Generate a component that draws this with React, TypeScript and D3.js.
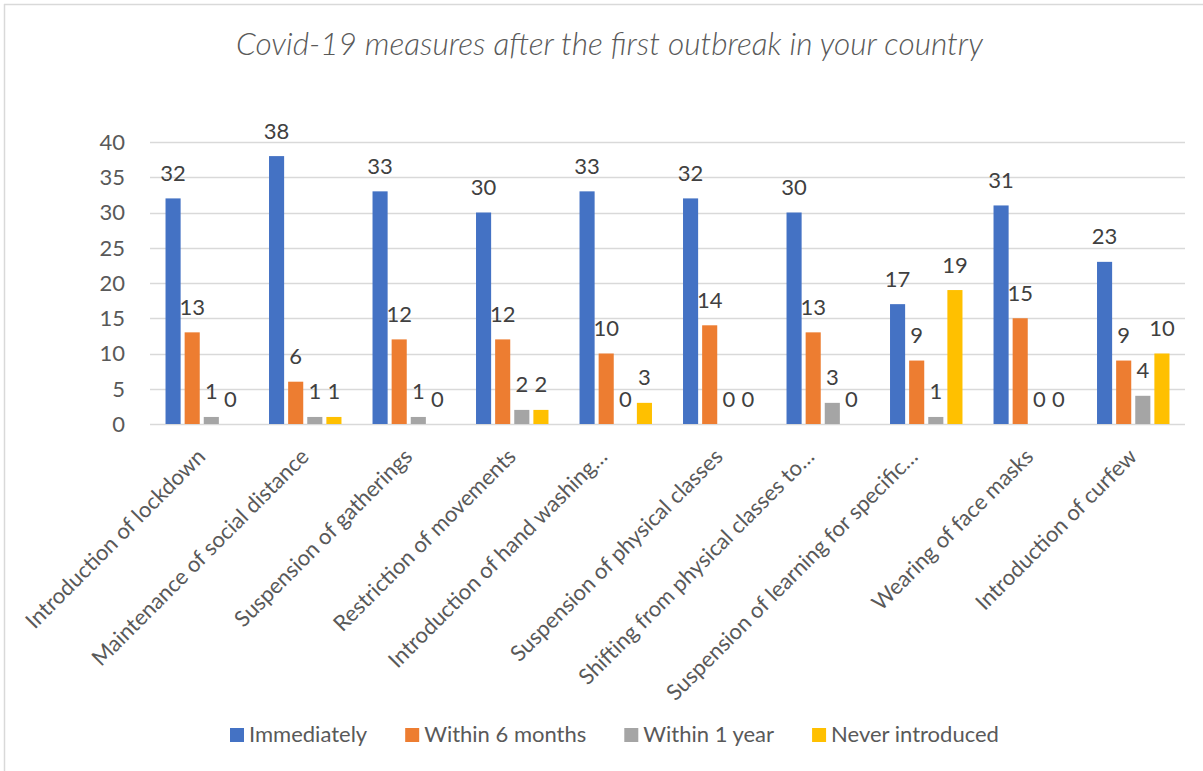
import React, { useEffect, useRef } from 'react';
import * as d3 from 'd3';

const categories = [
  'Introduction of lockdown',
  'Maintenance of social distance',
  'Suspension of gatherings',
  'Restriction of movements',
  'Introduction of hand washing…',
  'Suspension of physical classes',
  'Shifting from physical classes to…',
  'Suspension of learning for specific…',
  'Wearing of face masks',
  'Introduction of curfew',
];
const seriesNames = ['Immediately', 'Within 6 months', 'Within 1 year', 'Never introduced'];
const immediately = [32, 38, 33, 30, 33, 32, 30, 17, 31, 23];
const within6Months = [13, 6, 12, 12, 10, 14, 13, 9, 15, 9];
const within1Year = [1, 1, 1, 2, 0, 0, 3, 1, 0, 4];
const neverIntroduced = [0, 1, 0, 2, 3, 0, 0, 19, 0, 10];
const yTicks = [0, 5, 10, 15, 20, 25, 30, 35, 40];
const title = 'Covid-19 measures after the first outbreak in your country';

const colors = ['#4472C4', '#ED7D31', '#A5A5A5', '#FFC000'];

const W = 1203;
const H = 771;
const FONT = 'Lato, Carlito, "Open Sans", sans-serif';
const FS = 22;

export default function App() {
  const ref = useRef<SVGSVGElement | null>(null);

  useEffect(() => {
    const svg = d3.select(ref.current);
    svg.selectAll('*').remove();
    const values = [immediately, within6Months, within1Year, neverIntroduced];

    svg.append('rect').attr('x', 0).attr('y', 0).attr('width', W).attr('height', H).attr('fill', '#fff');
    svg.append('line').attr('x1', 4.5).attr('x2', 4.5).attr('y1', 4).attr('y2', H).attr('stroke', '#d9d9d9').attr('stroke-width', 1.5);
    svg.append('line').attr('x1', 4).attr('x2', W).attr('y1', 4.5).attr('y2', 4.5).attr('stroke', '#d9d9d9').attr('stroke-width', 1.5);

    const left = 150, right = 1185, top = 142, bottom = 424;
    const x = d3.scaleBand<string>().domain(categories).range([left, right]).paddingInner(0.3).paddingOuter(0.15);
    const xs = d3.scaleBand<string>().domain(seriesNames).range([0, x.bandwidth()]).paddingInner(0.21).paddingOuter(0);
    const y = d3.scaleLinear().domain([0, 40]).range([bottom, top]);

    // title
    svg.append('text')
      .attr('x', 609.5).attr('y', 55)
      .attr('text-anchor', 'middle')
      .attr('font-family', FONT).attr('font-style', 'italic').attr('font-weight', 300)
      .attr('font-size', 31.6).attr('fill', '#595959')
      .text(title);

    // gridlines
    svg.append('g').selectAll('line').data(yTicks).join('line')
      .attr('x1', left).attr('x2', right)
      .attr('y1', d => Math.round(y(d)) + 0.5).attr('y2', d => Math.round(y(d)) + 0.5)
      .attr('stroke', '#d9d9d9').attr('stroke-width', 1.3);

    // y tick labels
    svg.append('g').selectAll('text').data(yTicks).join('text')
      .attr('x', 125).attr('y', d => y(d))
      .attr('dy', '0.36em')
      .attr('text-anchor', 'end')
      .attr('font-family', FONT).attr('font-size', FS).attr('fill', '#595959')
      .text(d => String(d));

    // bars and data labels
    seriesNames.forEach((s, si) => {
      const g = svg.append('g');
      g.selectAll('rect').data(values[si]).join('rect')
        .attr('x', (_, i) => (x(categories[i]) as number) + (xs(s) as number))
        .attr('y', d => y(d))
        .attr('width', xs.bandwidth())
        .attr('height', d => y(0) - y(d))
        .attr('fill', colors[si]);
      g.selectAll('text').data(values[si]).join('text')
        .attr('x', (_, i) => (x(categories[i]) as number) + (xs(s) as number) + xs.bandwidth() / 2)
        .attr('y', d => y(d) - 17.5)
        .attr('text-anchor', 'middle')
        .attr('font-family', FONT).attr('font-size', FS).attr('fill', '#404040')
        .text(d => String(d));
    });

    // category labels (rotated, right end anchored at the tick)
    svg.append('g').selectAll('text').data(categories).join('text')
      .attr('transform', d => {
        const dx = d.endsWith('…') ? -7 : 5;
        return `translate(${(x(d) as number) + x.bandwidth() / 2 + dx},458) rotate(-45)`;
      })
      .attr('text-anchor', 'end')
      .attr('font-family', FONT).attr('font-size', FS).attr('fill', '#595959')
      .text(d => d);

    // legend
    const lg = svg.append('g');
    let lx = 230;
    seriesNames.forEach((s, si) => {
      lg.append('rect').attr('x', lx).attr('y', 728).attr('width', 14).attr('height', 14).attr('fill', colors[si]);
      const t = lg.append('text')
        .attr('x', lx + 19).attr('y', 742)
        .attr('font-family', FONT).attr('font-size', FS).attr('fill', '#595959')
        .text(s);
      const w = (t.node() as SVGTextElement).getComputedTextLength();
      lx += 19 + w + 38;
    });
  }, []);

  return (
    <svg ref={ref} width={W} height={H} style={{ position: 'absolute', left: 0, top: 0 }} />
  );
}
